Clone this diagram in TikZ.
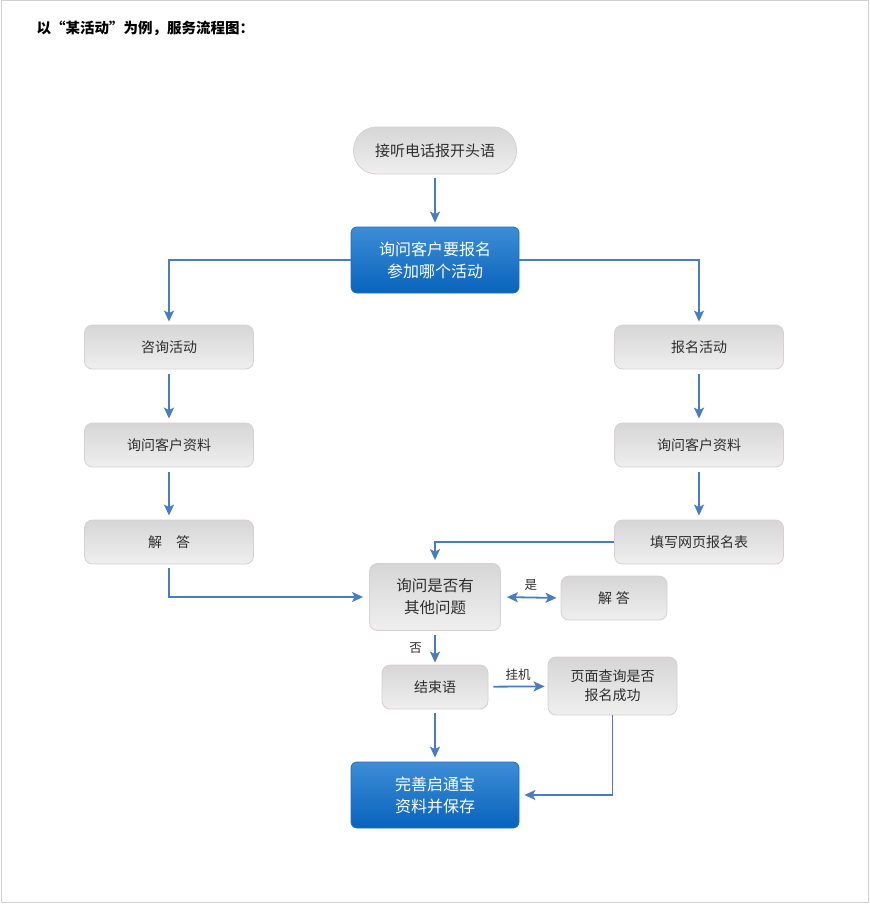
\documentclass[tikz,border=0pt]{standalone}
\usepackage{fontspec}
\setmainfont{Noto Sans CJK SC}
\usetikzlibrary{arrows.meta}
\definecolor{linkblue}{HTML}{4A7CC4}
\definecolor{greyedge}{HTML}{D9CFD2}
\definecolor{greytop}{HTML}{D6D6D6}
\definecolor{greybot}{HTML}{EFEFEF}
\definecolor{bluetop}{HTML}{3D8DD6}
\definecolor{bluebot}{HTML}{0863BC}
\definecolor{blueedge}{HTML}{1F6FBF}
\definecolor{textgrey}{HTML}{2E2E2E}
\definecolor{framegrey}{HTML}{D0D0D0}
\tikzset{
  greybox/.style={draw=greyedge, line width=0.8pt, rounded corners=8pt,
    top color=greytop, bottom color=greybot, text=textgrey,
    minimum width=#1, align=center, inner sep=0pt},
  greybox/.default=169pt,
  bluebox/.style={draw=blueedge, line width=0.8pt, rounded corners=6pt,
    top color=bluetop, bottom color=bluebot, text=white,
    minimum width=168pt, minimum height=66pt, align=center, inner sep=0pt,
    font=\fontsize{16}{22}\selectfont},
  link/.style={draw=linkblue, line width=1.8pt,
    -{Stealth[length=11pt,width=10pt,inset=2.5pt]}},
  tag/.style={text=textgrey, font=\fontsize{12.5}{14}\selectfont}
}
\begin{document}
\begin{tikzpicture}[x=1pt,y=-1pt]
\useasboundingbox (0,0) rectangle (870,913);
\draw[framegrey, line width=1pt] (1.5,0.5) rectangle (868.5,902.5);

\node[anchor=west, font=\bfseries\fontsize{14.5}{16}\selectfont, text=black]
  (title) at (33,28) {以“某活动”为例，服务流程图：};

% opening
\node[draw=greyedge, line width=0.8pt, rounded corners=23pt,
  top color=greytop, bottom color=greybot, text=textgrey,
  minimum width=163pt, minimum height=47pt, inner sep=0pt,
  font=\fontsize{15}{18}\selectfont] (open) at (435,150.5) {接听电话报开头语};

\node[bluebox] (ask) at (435,260) {询问客户要报名\\参加哪个活动};

% left column
\node[greybox, minimum height=44pt, font=\fontsize{14}{16}\selectfont] (zx) at (169,347) {咨询活动};
\node[greybox, minimum height=44pt, font=\fontsize{14}{16}\selectfont] (zl1) at (169,445) {询问客户资料};
\node[greybox, minimum height=44pt, font=\fontsize{14}{16}\selectfont] (jd1) at (169,542) {解\hspace{14pt}答};

% right column
\node[greybox, minimum height=44pt, font=\fontsize{14}{16}\selectfont] (bm) at (699,347) {报名活动};
\node[greybox, minimum height=44pt, font=\fontsize{14}{16}\selectfont] (zl2) at (699,445) {询问客户资料};
\node[greybox, minimum height=44pt, font=\fontsize{14}{16}\selectfont] (tx) at (699,542) {填写网页报名表};

% middle
\node[greybox=131pt, minimum height=67pt, font=\fontsize{15.5}{22}\selectfont] (q) at (435,597) {询问是否有\\其他问题};
\node[greybox=106pt, minimum height=44pt, font=\fontsize{14}{16}\selectfont] (jd2) at (614,598) {解\hspace{4pt}答};
\node[greybox=106pt, minimum height=44pt, font=\fontsize{14}{16}\selectfont] (end) at (435,687) {结束语};
\node[greybox=129pt, minimum height=58pt, font=\fontsize{14}{19}\selectfont] (chk) at (612.5,686) {页面查询是否\\报名成功};

\node[bluebox] (save) at (435,795) {完善启通宝\\资料并保存};

% connectors
\draw[link, shorten <=4pt, shorten >=4pt] (open) -- (ask);
\draw[link, shorten >=3pt] (ask.west) -| (zx.north);
\draw[link, shorten >=3pt] (ask.east) -| (bm.north);
\draw[link, shorten <=5pt, shorten >=4pt] (zx) -- (zl1);
\draw[link, shorten <=5pt, shorten >=4pt] (zl1) -- (jd1);
\draw[link, shorten <=5pt, shorten >=4pt] (bm) -- (zl2);
\draw[link, shorten <=5pt, shorten >=4pt] (zl2) -- (tx);
\draw[link, shorten <=4pt, shorten >=6pt] (jd1.south) |- (q.west);
\draw[link, shorten >=3pt] (tx.west) -| (q.north);
\draw[link, {Stealth[length=11pt,width=10pt,inset=2.5pt]}-{Stealth[length=11pt,width=10pt,inset=2.5pt]},
  shorten <=6pt, shorten >=4pt] (q.east) -- (jd2.west)
  node[midway, above=3pt, tag] (yes) {是};
\draw[link, shorten <=4pt, shorten >=2pt] (q) -- (end)
  node[midway, left=9pt, tag] (no) {否};
\draw[link, shorten <=5pt, shorten >=3pt] (end) -- (chk)
  node[midway, above=2pt, tag] (hang) {挂机};
\draw[link, shorten <=4pt, shorten >=4pt] (end) -- (save);
\draw[link, shorten >=5pt] (chk.south) |- (save.east);
\end{tikzpicture}
\end{document}
